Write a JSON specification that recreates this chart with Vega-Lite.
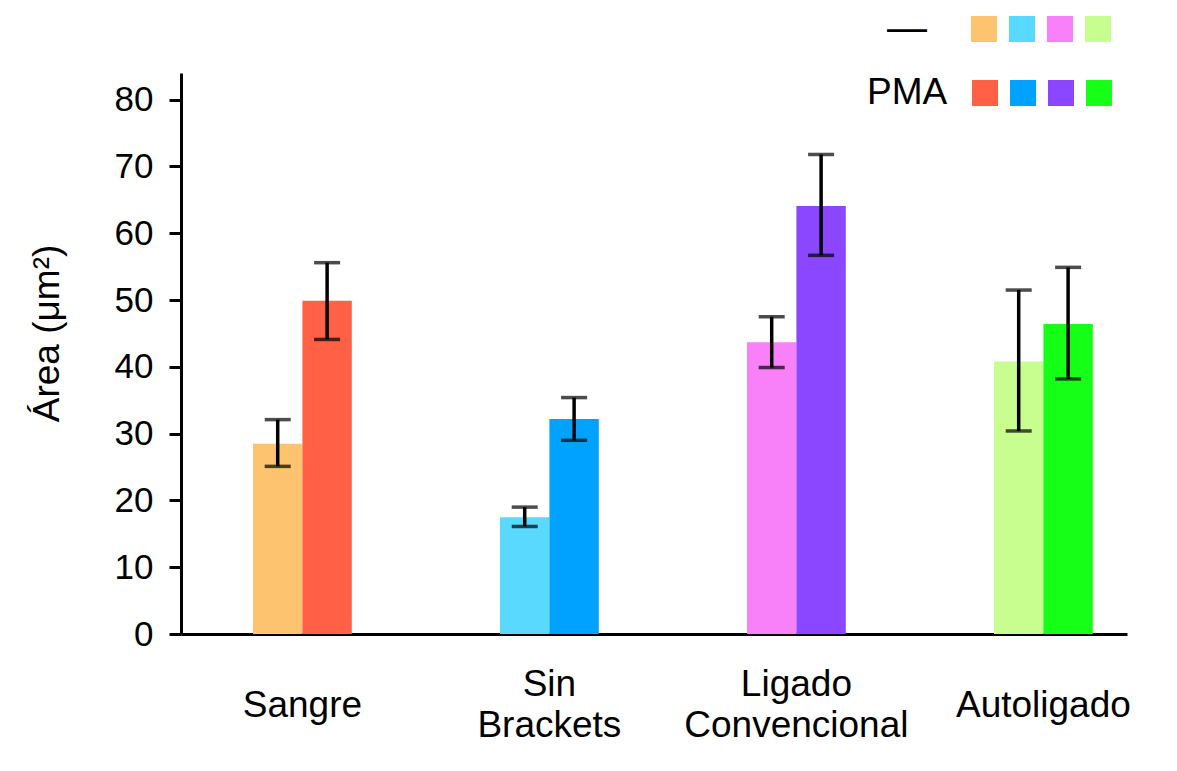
{
  "$schema": "https://vega.github.io/schema/vega-lite/v6.json",
  "autosize": {"type": "none"},
  "padding": {"left": 181, "top": 73, "right": 50, "bottom": 137},
  "width": 946,
  "height": 561,
  "background": "white",
  "config": {
    "font": "Liberation Sans",
    "view": {"stroke": null},
    "axis": {"grid": false, "domainColor": "black", "tickColor": "black", "labelColor": "black", "titleColor": "black", "titleFontWeight": "normal"},
    "legend": {"padding": 0}
  },
  "data": {
    "values": [
      {"cat": "Sangre", "grp": "ctrl", "value": 28.5, "lo": 25.1, "hi": 32.1},
      {"cat": "Sangre", "grp": "PMA", "value": 49.9, "lo": 44.1, "hi": 55.6},
      {"cat": "Sin Brackets", "grp": "ctrl", "value": 17.5, "lo": 16.1, "hi": 19.0},
      {"cat": "Sin Brackets", "grp": "PMA", "value": 32.2, "lo": 29.0, "hi": 35.4},
      {"cat": "Ligado Convencional", "grp": "ctrl", "value": 43.7, "lo": 39.9, "hi": 47.5},
      {"cat": "Ligado Convencional", "grp": "PMA", "value": 64.1, "lo": 56.7, "hi": 71.8},
      {"cat": "Autoligado", "grp": "ctrl", "value": 40.8, "lo": 30.4, "hi": 51.5},
      {"cat": "Autoligado", "grp": "PMA", "value": 46.4, "lo": 38.2, "hi": 54.9}
    ]
  },
  "encoding": {
    "x": {
      "field": "cat", "type": "nominal",
      "sort": ["Sangre", "Sin Brackets", "Ligado Convencional", "Autoligado"],
      "scale": {"paddingInner": 0.6, "paddingOuter": 0.215, "align": 0.678},
      "axis": {
        "title": null, "labelAngle": 0, "ticks": false, "tickSize": 0,
        "domainWidth": 3, "labelFontSize": 37, "labelLineHeight": 41, "labelLimit": 400,
        "labelBaseline": "middle",
        "labelPadding": {"condition": {"test": "datum.value == 'Sin Brackets' || datum.value == 'Ligado Convencional'", "value": 50}, "value": 71},
        "labelExpr": "datum.value == 'Sin Brackets' ? ['Sin', 'Brackets'] : datum.value == 'Ligado Convencional' ? ['Ligado', 'Convencional'] : datum.value"
      }
    },
    "xOffset": {"field": "grp", "type": "nominal", "sort": ["ctrl", "PMA"], "scale": {"paddingInner": 0, "paddingOuter": 0}},
    "y": {
      "field": "value", "type": "quantitative",
      "scale": {"domain": [0, 84], "nice": false},
      "axis": {
        "title": "Área (μm²)", "values": [0, 10, 20, 30, 40, 50, 60, 70, 80],
        "domainWidth": 3, "tickWidth": 3, "tickSize": 12, "labelPadding": 16,
        "labelFontSize": 35, "titleFontSize": 37,
        "titleX": -134, "titleY": 260, "titleAngle": -90, "titleAlign": "center", "titleBaseline": "middle"
      }
    }
  },
  "layer": [
    {
      "transform": [{"filter": "datum.grp == 'ctrl'"}],
      "mark": {"type": "bar"},
      "encoding": {
        "color": {
          "field": "cat", "type": "nominal",
          "scale": {"domain": ["Sangre", "Sin Brackets", "Ligado Convencional", "Autoligado"], "range": ["#FEC36E", "#5AD9FF", "#F880F8", "#C8FD90"]},
          "legend": {
            "title": "—", "orient": "none", "legendX": 706, "legendY": -57,
            "direction": "horizontal", "columns": 4, "titleOrient": "left",
            "titleFontSize": 40, "titleFontWeight": "normal", "titleColor": "black", "titlePadding": 44,
            "titleBaseline": "middle",
            "symbolType": "square", "symbolSize": 676, "symbolStrokeWidth": 0, "symbolOpacity": 1,
            "labelExpr": "''", "labelOffset": 0, "labelFontSize": 1, "columnPadding": 12
          }
        }
      }
    },
    {
      "transform": [{"filter": "datum.grp == 'PMA'"}],
      "mark": {"type": "bar"},
      "encoding": {
        "color": {
          "field": "cat", "type": "nominal",
          "scale": {"domain": ["Sangre", "Sin Brackets", "Ligado Convencional", "Autoligado"], "range": ["#FF6046", "#00A2FF", "#8B46FF", "#16FF16"]},
          "legend": {
            "title": "PMA", "orient": "none", "legendX": 686, "legendY": 7,
            "direction": "horizontal", "columns": 4, "titleOrient": "left",
            "titleFontSize": 37, "titleFontWeight": "normal", "titleColor": "black", "titlePadding": 24,
            "titleBaseline": "middle",
            "symbolType": "square", "symbolSize": 676, "symbolStrokeWidth": 0, "symbolOpacity": 1,
            "labelExpr": "''", "labelOffset": 0, "labelFontSize": 1, "columnPadding": 12
          }
        }
      }
    },
    {
      "mark": {"type": "rule", "color": "black", "strokeWidth": 3.5},
      "encoding": {"y": {"field": "lo", "type": "quantitative"}, "y2": {"field": "hi"}}
    },
    {
      "mark": {"type": "tick", "color": "black", "thickness": 3.5, "size": 26, "orient": "horizontal"},
      "encoding": {"y": {"field": "lo", "type": "quantitative"}}
    },
    {
      "mark": {"type": "tick", "color": "black", "thickness": 3.5, "size": 26, "orient": "horizontal"},
      "encoding": {"y": {"field": "hi", "type": "quantitative"}}
    }
  ],
  "resolve": {"scale": {"color": "independent"}, "legend": {"color": "independent"}}
}
